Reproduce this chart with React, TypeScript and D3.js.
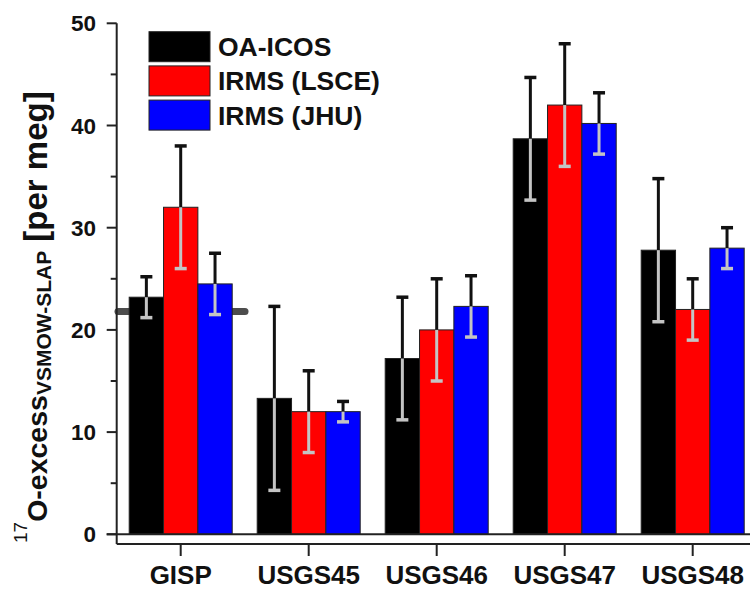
import React from "react";
import * as d3 from "d3";

const categories = ["GISP", "USGS45", "USGS46", "USGS47", "USGS48"];
const seriesNames = ["OA-ICOS", "IRMS (LSCE)", "IRMS (JHU)"];
const seriesColors = ["#000000", "#ff0000", "#0000ff"];
const oaIcos = [23.2, 13.3, 17.2, 38.7, 27.8];
const oaIcosErr = [2.0, 9.0, 6.0, 6.0, 7.0];
const irmsLsce = [32.0, 12.0, 20.0, 42.0, 22.0];
const irmsLsceErr = [6.0, 4.0, 5.0, 6.0, 3.0];
const irmsJhu = [24.5, 12.0, 22.3, 40.2, 28.0];
const irmsJhuErr = [3.0, 1.0, 3.0, 3.0, 2.0];
const gispReference = 21.8;
const majorTicks = [0, 10, 20, 30, 40, 50];
const minorTicks = [5, 15, 25, 35, 45];

const W = 750;
const H = 591;
const FONT = "'Liberation Sans', Arial, sans-serif";

export default function App() {
  const values = [oaIcos, irmsLsce, irmsJhu];
  const errs = [oaIcosErr, irmsLsceErr, irmsJhuErr];

  const axisX = 116.7;
  const y = d3.scaleLinear().domain([0, 50]).range([534.3, 23.3]);
  const x = d3.scalePoint<string>().domain(categories).range([axisX, axisX + 128 * 5]).padding(0.5);
  const sub = d3.scaleBand<number>().domain([0, 1, 2]).range([-51.5, 51.5]).padding(0);
  const bottomY = 544;
  const capW = 12;

  return (
    <svg width={W} height={H} style={{ position: "absolute", left: 0, top: 0, background: "#fff" }} fontFamily={FONT}>
      <rect x={0} y={0} width={W} height={H} fill="#fff" />
      {/* reference line for GISP */}
      <line
        x1={118}
        x2={245}
        y1={y(gispReference)}
        y2={y(gispReference)}
        stroke="#4d4d4d"
        strokeWidth={7}
        strokeLinecap="round"
      />
      {/* bars */}
      {categories.map((c, i) =>
        values.map((vals, s) => {
          const bx = (x(c) as number) + (sub(s) as number);
          return (
            <rect
              key={`b-${c}-${s}`}
              x={bx}
              y={y(vals[i])}
              width={sub.bandwidth()}
              height={y(0) - y(vals[i])}
              fill={seriesColors[s]}
              stroke="#222"
              strokeWidth={1}
            />
          );
        })
      )}
      {/* error bars */}
      {categories.map((c, i) =>
        values.map((vals, s) => {
          const cx = (x(c) as number) + (sub(s) as number) + sub.bandwidth() / 2;
          const v = vals[i];
          const e = errs[s][i];
          return (
            <g key={`e-${c}-${s}`}>
              <line x1={cx} x2={cx} y1={y(v)} y2={y(v + e)} stroke="#111" strokeWidth={3} />
              <line x1={cx - capW / 2} x2={cx + capW / 2} y1={y(v + e)} y2={y(v + e)} stroke="#111" strokeWidth={3.5} />
              <line x1={cx} x2={cx} y1={y(v)} y2={y(v - e)} stroke="#c4c4c4" strokeWidth={3} />
              <line x1={cx - capW / 2} x2={cx + capW / 2} y1={y(v - e)} y2={y(v - e)} stroke="#c4c4c4" strokeWidth={3.5} />
            </g>
          );
        })
      )}
      {/* y axis */}
      <line x1={axisX} x2={axisX} y1={y(50)} y2={bottomY} stroke="#222" strokeWidth={2} />
      <line x1={axisX - 10} x2={W} y1={y(0)} y2={y(0)} stroke="#222" strokeWidth={2} />
      <line x1={axisX} x2={W} y1={bottomY} y2={bottomY} stroke="#222" strokeWidth={2} />
      {majorTicks.map((t) => (
        <g key={`mt-${t}`}>
          <line x1={axisX - 10} x2={axisX} y1={y(t)} y2={y(t)} stroke="#222" strokeWidth={2} />
          <text
            x={96}
            y={y(t)}
            dy="0.36em"
            textAnchor="end"
            fontSize={22.5}
            fontWeight="bold"
            fill="#111"
          >
            {t}
          </text>
        </g>
      ))}
      {minorTicks.map((t) => (
        <line key={`mn-${t}`} x1={axisX - 6} x2={axisX} y1={y(t)} y2={y(t)} stroke="#222" strokeWidth={2} />
      ))}
      {/* x axis ticks + labels */}
      {categories.map((c) => (
        <g key={`xt-${c}`}>
          <line x1={x(c)} x2={x(c)} y1={bottomY} y2={bottomY + 12} stroke="#222" strokeWidth={2} />
          <text x={x(c)} y={583.5} textAnchor="middle" fontSize={26} fontWeight="bold" fill="#111">
            {c}
          </text>
        </g>
      ))}
      {/* y axis title */}
      <g transform="translate(47, 543) rotate(-90)">
        <text x={0} y={0} fill="#111">
          <tspan fontSize={19} dy={-20}>17</tspan>
          <tspan fontSize={28.5} fontWeight="bold" dy={20}>O-excess</tspan>
          <tspan fontSize={21} fontWeight="bold" dy={4}>VSMOW-SLAP</tspan>
          <tspan fontSize={33} fontWeight="bold" dy={-4}>{"\u00a0[per meg]"}</tspan>
        </text>
      </g>
      {/* legend */}
      {seriesNames.map((n, s) => {
        const ly = 31.7 + s * 34.2;
        return (
          <g key={`lg-${n}`}>
            <rect x={149} y={ly} width={61} height={30} fill={seriesColors[s]} stroke="#222" strokeWidth={1} />
            <text x={218} y={ly + 15} dy="0.36em" fontSize={26.5} fontWeight="bold" fill="#111">
              {n}
            </text>
          </g>
        );
      })}
    </svg>
  );
}
